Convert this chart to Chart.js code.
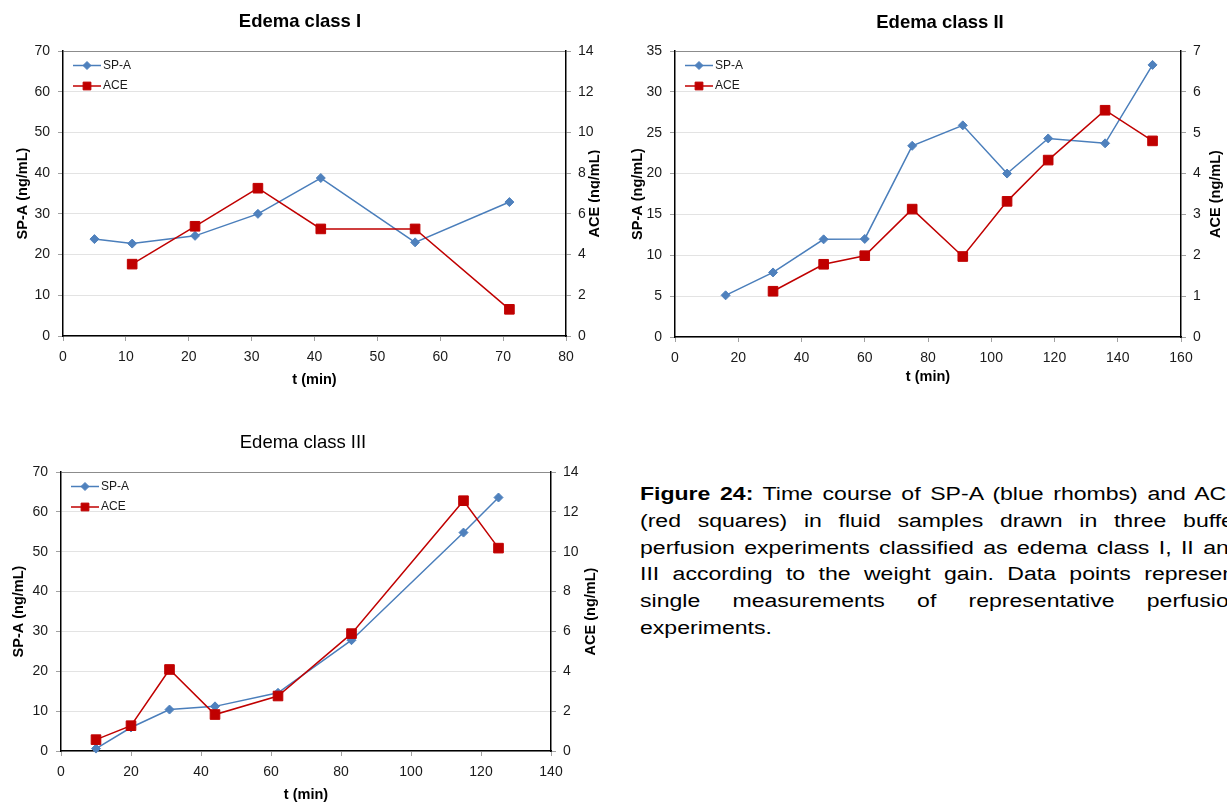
<!DOCTYPE html>
<html>
<head>
<meta charset="utf-8">
<script src="https://cdn.jsdelivr.net/npm/chart.js@4.4.0/dist/chart.umd.min.js"></script>
<style>
  html, body { margin: 0; padding: 0; background: #fff; }
  body { width: 1227px; height: 802px; overflow: hidden; position: relative; }
  canvas { position: absolute; }
  #c1 { left: 0; top: 0; }
  #c2 { left: 600px; top: 0; }
  #c3 { left: 0; top: 420px; }
  #caption {
    position: absolute; left: 640px; top: 481px; width: 470px;
    font: 18px 'Liberation Sans', Arial, sans-serif; line-height: 26.8px;
    text-align: justify; transform: scaleX(1.28); transform-origin: 0 0; color: #000;
  }
</style>
</head>
<body>
<canvas id="c1" width="600" height="400"></canvas>
<canvas id="c2" width="680" height="400"></canvas>
<canvas id="c3" width="606" height="386"></canvas>
<div id="caption"><b>Figure 24:</b> Time course of SP-A (blue rhombs) and ACE (red squares) in fluid samples drawn in three buffer perfusion experiments classified as edema class I, II and III according to the weight gain. Data points represent single measurements of representative perfusion experiments.</div>
<script>
// Edema class I
const tSpaI = [5, 11, 21, 31, 41, 56, 71];
const spaI = [23.8, 22.7, 24.6, 30.0, 38.8, 23.0, 32.9];
const tAceI = [11, 21, 31, 41, 56, 71];
const aceI = [3.53, 5.39, 7.26, 5.26, 5.26, 1.31];

// Edema class II
const tSpaII = [16, 31, 47, 60, 75, 91, 105, 118, 136, 151];
const spaII = [5.1, 7.9, 11.95, 12.0, 23.4, 25.9, 20.0, 24.3, 23.7, 33.3];
const tAceII = [31, 47, 60, 75, 91, 105, 118, 136, 151];
const aceII = [1.12, 1.78, 1.99, 3.13, 1.97, 3.32, 4.33, 5.55, 4.80];

// Edema class III
const tSpaIII = [10, 20, 31, 44, 62, 83, 115, 125];
const spaIII = [0.6, 5.9, 10.4, 11.2, 14.6, 27.8, 54.8, 63.6];
const tAceIII = [10, 20, 31, 44, 62, 83, 115, 125];
const aceIII = [0.57, 1.27, 4.09, 1.83, 2.76, 5.89, 12.56, 10.18];

const seriesNames = ['SP-A', 'ACE'];
const leftAxisTitle = 'SP-A (ng/mL)';
const rightAxisTitle = 'ACE (ng/mL)';
const xAxisTitle = 't (min)';

Chart.defaults.font.family = "'Liberation Sans', Arial, sans-serif";
Chart.defaults.color = '#1a1a1a';

function toPoints(xs, ys) {
    return xs.map((x, i) => ({ x: x, y: ys[i] }));
}

// legend drawn inside the plot area, line + marker like the original
const innerLegend = {
    id: 'innerLegend',
    afterDraw(chart) {
        const ctx = chart.ctx;
        const area = chart.chartArea;
        const rows = [14.5, 35];
        chart.data.datasets.forEach((ds, i) => {
            const y = area.top + rows[i];
            const x0 = area.left + 10;
            ctx.save();
            ctx.strokeStyle = ds.borderColor;
            ctx.lineWidth = 1.5;
            ctx.beginPath();
            ctx.moveTo(x0, y);
            ctx.lineTo(x0 + 28, y);
            ctx.stroke();
            ctx.fillStyle = ds.pointBackgroundColor;
            ctx.strokeStyle = ds.pointBorderColor;
            ctx.lineWidth = 1;
            Chart.helpers.drawPoint(ctx, {
                pointStyle: ds.pointStyle,
                radius: ds.pointStyle === 'rect' ? 5.5 : 4,
                rotation: 0,
                borderWidth: 1
            }, x0 + 14, y);
            ctx.fillStyle = '#1a1a1a';
            ctx.font = "12px 'Liberation Sans', Arial, sans-serif";
            ctx.textAlign = 'left';
            ctx.textBaseline = 'middle';
            ctx.fillText(ds.label, x0 + 30, y);
            ctx.restore();
        });
    }
};

// right axis title reads bottom-to-top, as in the original
const rightTitle = {
    id: 'rightTitle',
    afterDraw(chart, args, opts) {
        const ctx = chart.ctx;
        const area = chart.chartArea;
        ctx.save();
        ctx.translate(opts.x, (area.top + area.bottom) / 2);
        ctx.rotate(-Math.PI / 2);
        ctx.fillStyle = '#000';
        ctx.font = "bold 14.5px 'Liberation Sans', Arial, sans-serif";
        ctx.textAlign = 'center';
        ctx.textBaseline = 'middle';
        ctx.fillText(opts.text, 0, 0);
        ctx.restore();
    }
};

function makeChart(id, o) {
    const W = o.W, H = o.H, p = o.plot;
    const titleLH = 18.5 * 1.2;
    const axisLH = 14.5 * 1.2;
    new Chart(document.getElementById(id).getContext('2d'), {
        type: 'line',
        data: {
            datasets: [{
                label: seriesNames[0],
                data: o.spa,
                yAxisID: 'y',
                borderColor: '#4A7EBB',
                borderWidth: 1.5,
                pointStyle: 'rectRot',
                pointRadius: 4.5,
                pointBackgroundColor: '#4F81BD',
                pointBorderColor: '#4F81BD',
                pointBorderWidth: 1,
                tension: 0,
                clip: false,
                order: 1
            }, {
                label: seriesNames[1],
                data: o.ace,
                yAxisID: 'y1',
                borderColor: '#C00000',
                borderWidth: 1.5,
                pointStyle: 'rect',
                pointRadius: 6.8,
                pointBackgroundColor: '#C00000',
                pointBorderColor: '#C00000',
                pointBorderWidth: 1,
                tension: 0,
                clip: false,
                order: 0
            }]
        },
        options: {
            responsive: false,
            animation: false,
            events: [],
            layout: { padding: 0 },
            scales: {
                x: {
                    type: 'linear',
                    min: 0,
                    max: o.xMax,
                    afterFit: s => { s.height = H - p.bottom; },
                    ticks: { stepSize: o.xStep, font: { size: 14 }, padding: 8, maxRotation: 0 },
                    grid: { drawOnChartArea: false, drawTicks: true, tickLength: 5, tickColor: '#a0a0a0' },
                    border: { color: '#000', width: 1.5 },
                    title: {
                        display: true, text: xAxisTitle, color: '#000',
                        font: { size: 14.5, weight: 'bold' },
                        padding: { top: 0, bottom: H - o.xTitleY - axisLH / 2 }
                    }
                },
                y: {
                    position: 'left',
                    min: 0,
                    max: o.yMax,
                    afterFit: s => { s.width = p.left; },
                    ticks: { stepSize: o.yStep, font: { size: 14 }, padding: 8 },
                    grid: {
                        color: c => (c.tick && c.tick.value === o.yMax) ? '#8c8c8c' : '#e3e3e3',
                        tickLength: 5, tickColor: '#a0a0a0'
                    },
                    border: { color: '#000', width: 1.5 },
                    title: {
                        display: true, text: leftAxisTitle, color: '#000',
                        font: { size: 14.5, weight: 'bold' },
                        padding: { top: o.leftTitleX - axisLH / 2, bottom: 0 }
                    }
                },
                y1: {
                    position: 'right',
                    min: 0,
                    max: o.y1Max,
                    afterFit: s => { s.width = W - p.right; },
                    ticks: { stepSize: o.y1Step, font: { size: 14 }, padding: 7 },
                    grid: { drawOnChartArea: false, tickLength: 5, tickColor: '#a0a0a0' },
                    border: { color: '#000', width: 1.5 }
                }
            },
            plugins: {
                legend: { display: false },
                tooltip: { enabled: false },
                title: {
                    display: true,
                    text: o.title,
                    color: '#000',
                    font: { size: 18.5, weight: o.titleBold ? 'bold' : 'normal' },
                    padding: { top: o.titleY - titleLH / 2, bottom: p.top - o.titleY - titleLH / 2 }
                },
                rightTitle: { x: o.rightTitleX, text: rightAxisTitle }
            }
        },
        plugins: [innerLegend, rightTitle]
    });
}

makeChart('c1', {
    title: 'Edema class I', titleBold: true,
    W: 600, H: 400, plot: { left: 63, right: 566, top: 51, bottom: 336 },
    titleY: 22, leftTitleX: 23, rightTitleX: 595, xTitleY: 380,
    xMax: 80, xStep: 10, yMax: 70, yStep: 10, y1Max: 14, y1Step: 2,
    spa: toPoints(tSpaI, spaI), ace: toPoints(tAceI, aceI)
});

makeChart('c2', {
    title: 'Edema class II', titleBold: true,
    W: 680, H: 400, plot: { left: 75, right: 581, top: 51, bottom: 337 },
    titleY: 23, leftTitleX: 37.6, rightTitleX: 616, xTitleY: 377,
    xMax: 160, xStep: 20, yMax: 35, yStep: 5, y1Max: 7, y1Step: 1,
    spa: toPoints(tSpaII, spaII), ace: toPoints(tAceII, aceII)
});

makeChart('c3', {
    title: 'Edema class III', titleBold: false,
    W: 606, H: 386, plot: { left: 61, right: 551, top: 52, bottom: 331 },
    titleY: 23, leftTitleX: 19, rightTitleX: 591, xTitleY: 375,
    xMax: 140, xStep: 20, yMax: 70, yStep: 10, y1Max: 14, y1Step: 2,
    spa: toPoints(tSpaIII, spaIII), ace: toPoints(tAceIII, aceIII)
});
</script>
</body>
</html>
